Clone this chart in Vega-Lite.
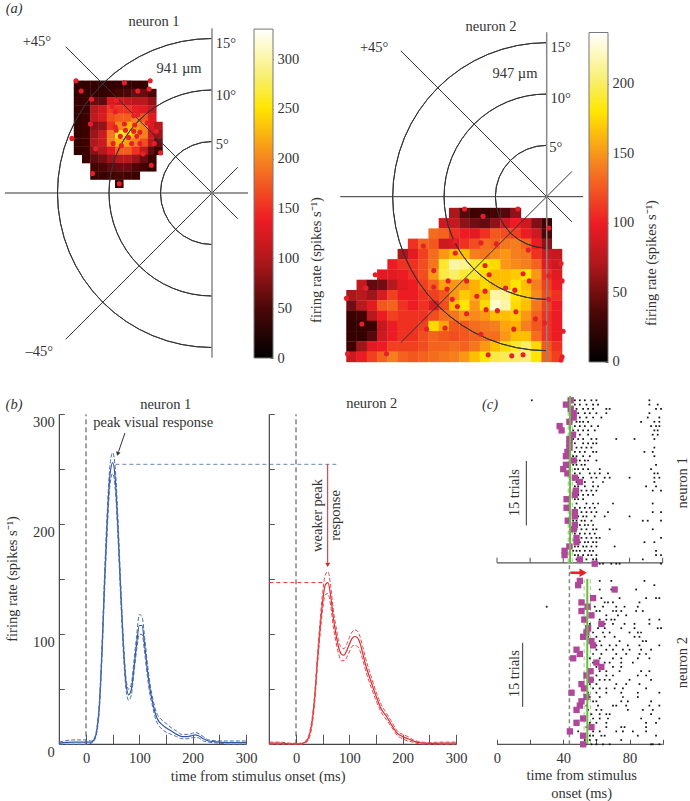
{"$schema":"https://vega.github.io/schema/vega-lite/v6.json","background":"white","padding":0,"spacing":26,"resolve":{"scale":{"color":"independent"}},
"config":{"font":"Liberation Serif","view":{"stroke":null},"text":{"fontSize":14.5,"fill":"#333","font":"Liberation Serif"},"axis":{"labelFont":"Liberation Serif","labelFontSize":14.5,"labelColor":"#333","tickColor":"#555","grid":false,"domain":false,"title":null,"labelOverlap":false,"labelBound":false,"labelFlush":false}},
"datasets":{
"h1":[{"x":-13,"y":10.5,"v":15},{"x":-12.2,"y":10.5,"v":12},{"x":-11.4,"y":10.5,"v":12},{"x":-10.6,"y":10.5,"v":8},{"x":-9.8,"y":10.5,"v":12},{"x":-9,"y":10.5,"v":20},{"x":-8.2,"y":10.5,"v":18},{"x":-7.4,"y":10.5,"v":15},{"x":-6.6,"y":10.5,"v":15},
{"x":-13,"y":9.7,"v":15},{"x":-12.2,"y":9.7,"v":15},{"x":-11.4,"y":9.7,"v":20},{"x":-10.6,"y":9.7,"v":15},{"x":-9.8,"y":9.7,"v":35},{"x":-9,"y":9.7,"v":45},{"x":-8.2,"y":9.7,"v":50},{"x":-7.4,"y":9.7,"v":65},{"x":-6.6,"y":9.7,"v":65},{"x":-5.8,"y":9.7,"v":45},
{"x":-13,"y":8.9,"v":18},{"x":-12.2,"y":8.9,"v":25},{"x":-11.4,"y":8.9,"v":65},{"x":-10.6,"y":8.9,"v":60},{"x":-9.8,"y":8.9,"v":125},{"x":-9,"y":8.9,"v":115},{"x":-8.2,"y":8.9,"v":110},{"x":-7.4,"y":8.9,"v":105},{"x":-6.6,"y":8.9,"v":105},{"x":-5.8,"y":8.9,"v":85},
{"x":-13,"y":8.1,"v":18},{"x":-12.2,"y":8.1,"v":28},{"x":-11.4,"y":8.1,"v":105},{"x":-10.6,"y":8.1,"v":120},{"x":-9.8,"y":8.1,"v":150},{"x":-9,"y":8.1,"v":145},{"x":-8.2,"y":8.1,"v":145},{"x":-7.4,"y":8.1,"v":135},{"x":-6.6,"y":8.1,"v":130},{"x":-5.8,"y":8.1,"v":110},
{"x":-13,"y":7.3,"v":15},{"x":-12.2,"y":7.3,"v":28},{"x":-11.4,"y":7.3,"v":110},{"x":-10.6,"y":7.3,"v":125},{"x":-9.8,"y":7.3,"v":160},{"x":-9,"y":7.3,"v":170},{"x":-8.2,"y":7.3,"v":170},{"x":-7.4,"y":7.3,"v":195},{"x":-6.6,"y":7.3,"v":165},{"x":-5.8,"y":7.3,"v":130},
{"x":-13,"y":6.5,"v":15},{"x":-12.2,"y":6.5,"v":28},{"x":-11.4,"y":6.5,"v":80},{"x":-10.6,"y":6.5,"v":85},{"x":-9.8,"y":6.5,"v":145},{"x":-9,"y":6.5,"v":200},{"x":-8.2,"y":6.5,"v":225},{"x":-7.4,"y":6.5,"v":210},{"x":-6.6,"y":6.5,"v":195},{"x":-5.8,"y":6.5,"v":125},{"x":-5.2,"y":6.5,"v":105},
{"x":-13,"y":5.7,"v":15},{"x":-12.2,"y":5.7,"v":35},{"x":-11.4,"y":5.7,"v":90},{"x":-10.6,"y":5.7,"v":115},{"x":-9.8,"y":5.7,"v":190},{"x":-9,"y":5.7,"v":255},{"x":-8.2,"y":5.7,"v":250},{"x":-7.4,"y":5.7,"v":225},{"x":-6.6,"y":5.7,"v":195},{"x":-5.8,"y":5.7,"v":115},{"x":-5.2,"y":5.7,"v":90},
{"x":-13,"y":4.9,"v":15},{"x":-12.2,"y":4.9,"v":35},{"x":-11.4,"y":4.9,"v":100},{"x":-10.6,"y":4.9,"v":115},{"x":-9.8,"y":4.9,"v":195},{"x":-9,"y":4.9,"v":225},{"x":-8.2,"y":4.9,"v":215},{"x":-7.4,"y":4.9,"v":195},{"x":-6.6,"y":4.9,"v":160},{"x":-5.8,"y":4.9,"v":105},{"x":-5.2,"y":4.9,"v":65},
{"x":-13,"y":4.1,"v":12},{"x":-12.2,"y":4.1,"v":30},{"x":-11.4,"y":4.1,"v":80},{"x":-10.6,"y":4.1,"v":100},{"x":-9.8,"y":4.1,"v":130},{"x":-9,"y":4.1,"v":170},{"x":-8.2,"y":4.1,"v":170},{"x":-7.4,"y":4.1,"v":145},{"x":-6.6,"y":4.1,"v":110},{"x":-5.8,"y":4.1,"v":60},{"x":-5.2,"y":4.1,"v":30},
{"x":-12.2,"y":3.3,"v":25},{"x":-11.4,"y":3.3,"v":60},{"x":-10.6,"y":3.3,"v":70},{"x":-9.8,"y":3.3,"v":90},{"x":-9,"y":3.3,"v":105},{"x":-8.2,"y":3.3,"v":105},{"x":-7.4,"y":3.3,"v":90},{"x":-6.6,"y":3.3,"v":65},{"x":-5.8,"y":3.3,"v":30},
{"x":-11.4,"y":2.5,"v":40},{"x":-10.6,"y":2.5,"v":45},{"x":-9.8,"y":2.5,"v":60},{"x":-9,"y":2.5,"v":65},{"x":-8.2,"y":2.5,"v":65},{"x":-7.4,"y":2.5,"v":50},{"x":-6.6,"y":2.5,"v":32},{"x":-5.8,"y":2.5,"v":20},
{"x":-11.4,"y":1.7,"v":20},{"x":-10.6,"y":1.7,"v":25},{"x":-9.8,"y":1.7,"v":40},{"x":-9,"y":1.7,"v":45},{"x":-8.2,"y":1.7,"v":40},{"x":-7.4,"y":1.7,"v":30},{"x":-9,"y":0.9,"v":22}],
"h2":[{"x":-9,"y":-1.6,"v":70},{"x":-8,"y":-1.6,"v":40},{"x":-7,"y":-1.6,"v":25},{"x":-6,"y":-1.6,"v":20},{"x":-5,"y":-1.6,"v":30},{"x":-4,"y":-1.6,"v":40},{"x":-3,"y":-1.6,"v":60},
{"x":-10,"y":-2.6,"v":85},{"x":-9,"y":-2.6,"v":80},{"x":-8,"y":-2.6,"v":60},{"x":-7,"y":-2.6,"v":50},{"x":-6,"y":-2.6,"v":45},{"x":-5,"y":-2.6,"v":60},{"x":-4,"y":-2.6,"v":85},{"x":-3,"y":-2.6,"v":100},{"x":-2,"y":-2.6,"v":85},{"x":-1,"y":-2.6,"v":55},{"x":0,"y":-2.6,"v":25},
{"x":-11,"y":-3.6,"v":130},{"x":-10,"y":-3.6,"v":125},{"x":-9,"y":-3.6,"v":105},{"x":-8,"y":-3.6,"v":100},{"x":-7,"y":-3.6,"v":95},{"x":-6,"y":-3.6,"v":105},{"x":-5,"y":-3.6,"v":120},{"x":-4,"y":-3.6,"v":115},{"x":-3,"y":-3.6,"v":110},{"x":-2,"y":-3.6,"v":100},{"x":-1,"y":-3.6,"v":85},{"x":0,"y":-3.6,"v":35},
{"x":-13,"y":-4.6,"v":105},{"x":-12,"y":-4.6,"v":125},{"x":-11,"y":-4.6,"v":120},{"x":-10,"y":-4.6,"v":85},{"x":-9,"y":-4.6,"v":90},{"x":-8,"y":-4.6,"v":105},{"x":-7,"y":-4.6,"v":115},{"x":-6,"y":-4.6,"v":130},{"x":-5,"y":-4.6,"v":125},{"x":-4,"y":-4.6,"v":135},{"x":-3,"y":-4.6,"v":140},{"x":-2,"y":-4.6,"v":125},{"x":-1,"y":-4.6,"v":100},{"x":0,"y":-4.6,"v":60},
{"x":-14,"y":-5.6,"v":70},{"x":-13,"y":-5.6,"v":95},{"x":-12,"y":-5.6,"v":110},{"x":-11,"y":-5.6,"v":130},{"x":-10,"y":-5.6,"v":150},{"x":-9,"y":-5.6,"v":165},{"x":-8,"y":-5.6,"v":165},{"x":-7,"y":-5.6,"v":140},{"x":-6,"y":-5.6,"v":135},{"x":-5,"y":-5.6,"v":145},{"x":-4,"y":-5.6,"v":150},{"x":-3,"y":-5.6,"v":140},{"x":-2,"y":-5.6,"v":135},{"x":-1,"y":-5.6,"v":105},{"x":0,"y":-5.6,"v":85},{"x":1,"y":-5.6,"v":80},
{"x":-15,"y":-6.6,"v":100},{"x":-14,"y":-6.6,"v":105},{"x":-13,"y":-6.6,"v":105},{"x":-12,"y":-6.6,"v":115},{"x":-11,"y":-6.6,"v":135},{"x":-10,"y":-6.6,"v":185},{"x":-9,"y":-6.6,"v":215},{"x":-8,"y":-6.6,"v":210},{"x":-7,"y":-6.6,"v":185},{"x":-6,"y":-6.6,"v":180},{"x":-5,"y":-6.6,"v":175},{"x":-4,"y":-6.6,"v":150},{"x":-3,"y":-6.6,"v":145},{"x":-2,"y":-6.6,"v":140},{"x":-1,"y":-6.6,"v":125},{"x":0,"y":-6.6,"v":95},{"x":1,"y":-6.6,"v":85},
{"x":-16,"y":-7.6,"v":95},{"x":-15,"y":-7.6,"v":95},{"x":-14,"y":-7.6,"v":100},{"x":-13,"y":-7.6,"v":105},{"x":-12,"y":-7.6,"v":115},{"x":-11,"y":-7.6,"v":150},{"x":-10,"y":-7.6,"v":190},{"x":-9,"y":-7.6,"v":200},{"x":-8,"y":-7.6,"v":185},{"x":-7,"y":-7.6,"v":185},{"x":-6,"y":-7.6,"v":175},{"x":-5,"y":-7.6,"v":165},{"x":-4,"y":-7.6,"v":165},{"x":-3,"y":-7.6,"v":170},{"x":-2,"y":-7.6,"v":180},{"x":-1,"y":-7.6,"v":150},{"x":0,"y":-7.6,"v":105},{"x":1,"y":-7.6,"v":95},
{"x":-18,"y":-8.6,"v":80},{"x":-17,"y":-8.6,"v":45},{"x":-16,"y":-8.6,"v":50},{"x":-15,"y":-8.6,"v":75},{"x":-14,"y":-8.6,"v":95},{"x":-13,"y":-8.6,"v":100},{"x":-12,"y":-8.6,"v":110},{"x":-11,"y":-8.6,"v":125},{"x":-10,"y":-8.6,"v":155},{"x":-9,"y":-8.6,"v":150},{"x":-8,"y":-8.6,"v":150},{"x":-7,"y":-8.6,"v":160},{"x":-6,"y":-8.6,"v":175},{"x":-5,"y":-8.6,"v":165},{"x":-4,"y":-8.6,"v":165},{"x":-3,"y":-8.6,"v":180},{"x":-2,"y":-8.6,"v":165},{"x":-1,"y":-8.6,"v":140},{"x":0,"y":-8.6,"v":110},{"x":1,"y":-8.6,"v":100},
{"x":-19,"y":-9.6,"v":70},{"x":-18,"y":-9.6,"v":75},{"x":-17,"y":-9.6,"v":65},{"x":-16,"y":-9.6,"v":90},{"x":-15,"y":-9.6,"v":110},{"x":-14,"y":-9.6,"v":100},{"x":-13,"y":-9.6,"v":100},{"x":-12,"y":-9.6,"v":105},{"x":-11,"y":-9.6,"v":110},{"x":-10,"y":-9.6,"v":120},{"x":-9,"y":-9.6,"v":150},{"x":-8,"y":-9.6,"v":170},{"x":-7,"y":-9.6,"v":160},{"x":-6,"y":-9.6,"v":165},{"x":-5,"y":-9.6,"v":215},{"x":-4,"y":-9.6,"v":210},{"x":-3,"y":-9.6,"v":180},{"x":-2,"y":-9.6,"v":170},{"x":-1,"y":-9.6,"v":145},{"x":0,"y":-9.6,"v":115},{"x":1,"y":-9.6,"v":105},
{"x":-19,"y":-10.6,"v":50},{"x":-18,"y":-10.6,"v":75},{"x":-17,"y":-10.6,"v":95},{"x":-16,"y":-10.6,"v":120},{"x":-15,"y":-10.6,"v":125},{"x":-14,"y":-10.6,"v":105},{"x":-13,"y":-10.6,"v":100},{"x":-12,"y":-10.6,"v":105},{"x":-11,"y":-10.6,"v":90},{"x":-10,"y":-10.6,"v":115},{"x":-9,"y":-10.6,"v":165},{"x":-8,"y":-10.6,"v":180},{"x":-7,"y":-10.6,"v":150},{"x":-6,"y":-10.6,"v":175},{"x":-5,"y":-10.6,"v":235},{"x":-4,"y":-10.6,"v":215},{"x":-3,"y":-10.6,"v":175},{"x":-2,"y":-10.6,"v":165},{"x":-1,"y":-10.6,"v":135},{"x":0,"y":-10.6,"v":110},{"x":1,"y":-10.6,"v":100},
{"x":-19,"y":-11.6,"v":20},{"x":-18,"y":-11.6,"v":30},{"x":-17,"y":-11.6,"v":75},{"x":-16,"y":-11.6,"v":100},{"x":-15,"y":-11.6,"v":110},{"x":-14,"y":-11.6,"v":105},{"x":-13,"y":-11.6,"v":105},{"x":-12,"y":-11.6,"v":105},{"x":-11,"y":-11.6,"v":115},{"x":-10,"y":-11.6,"v":130},{"x":-9,"y":-11.6,"v":135},{"x":-8,"y":-11.6,"v":150},{"x":-7,"y":-11.6,"v":145},{"x":-6,"y":-11.6,"v":150},{"x":-5,"y":-11.6,"v":165},{"x":-4,"y":-11.6,"v":165},{"x":-3,"y":-11.6,"v":170},{"x":-2,"y":-11.6,"v":150},{"x":-1,"y":-11.6,"v":125},{"x":0,"y":-11.6,"v":105},{"x":1,"y":-11.6,"v":100},
{"x":-19,"y":-12.6,"v":8},{"x":-18,"y":-12.6,"v":5},{"x":-17,"y":-12.6,"v":20},{"x":-16,"y":-12.6,"v":80},{"x":-15,"y":-12.6,"v":100},{"x":-14,"y":-12.6,"v":105},{"x":-13,"y":-12.6,"v":105},{"x":-12,"y":-12.6,"v":110},{"x":-11,"y":-12.6,"v":175},{"x":-10,"y":-12.6,"v":155},{"x":-9,"y":-12.6,"v":120},{"x":-8,"y":-12.6,"v":120},{"x":-7,"y":-12.6,"v":130},{"x":-6,"y":-12.6,"v":135},{"x":-5,"y":-12.6,"v":140},{"x":-4,"y":-12.6,"v":155},{"x":-3,"y":-12.6,"v":160},{"x":-2,"y":-12.6,"v":140},{"x":-1,"y":-12.6,"v":120},{"x":0,"y":-12.6,"v":105},{"x":1,"y":-12.6,"v":100},
{"x":-19,"y":-13.6,"v":15},{"x":-18,"y":-13.6,"v":10},{"x":-17,"y":-13.6,"v":40},{"x":-16,"y":-13.6,"v":85},{"x":-15,"y":-13.6,"v":100},{"x":-14,"y":-13.6,"v":105},{"x":-13,"y":-13.6,"v":105},{"x":-12,"y":-13.6,"v":115},{"x":-11,"y":-13.6,"v":125},{"x":-10,"y":-13.6,"v":120},{"x":-9,"y":-13.6,"v":115},{"x":-8,"y":-13.6,"v":120},{"x":-7,"y":-13.6,"v":125},{"x":-6,"y":-13.6,"v":130},{"x":-5,"y":-13.6,"v":130},{"x":-4,"y":-13.6,"v":150},{"x":-3,"y":-13.6,"v":165},{"x":-2,"y":-13.6,"v":165},{"x":-1,"y":-13.6,"v":130},{"x":0,"y":-13.6,"v":105},{"x":1,"y":-13.6,"v":100},
{"x":-19,"y":-14.6,"v":25},{"x":-18,"y":-14.6,"v":65},{"x":-17,"y":-14.6,"v":95},{"x":-16,"y":-14.6,"v":100},{"x":-15,"y":-14.6,"v":110},{"x":-14,"y":-14.6,"v":110},{"x":-13,"y":-14.6,"v":110},{"x":-12,"y":-14.6,"v":115},{"x":-11,"y":-14.6,"v":125},{"x":-10,"y":-14.6,"v":125},{"x":-9,"y":-14.6,"v":130},{"x":-8,"y":-14.6,"v":125},{"x":-7,"y":-14.6,"v":135},{"x":-6,"y":-14.6,"v":150},{"x":-5,"y":-14.6,"v":165},{"x":-4,"y":-14.6,"v":175},{"x":-3,"y":-14.6,"v":185},{"x":-2,"y":-14.6,"v":200},{"x":-1,"y":-14.6,"v":175},{"x":0,"y":-14.6,"v":120},{"x":1,"y":-14.6,"v":105},
{"x":-19,"y":-15.6,"v":85},{"x":-18,"y":-15.6,"v":100},{"x":-17,"y":-15.6,"v":110},{"x":-16,"y":-15.6,"v":125},{"x":-15,"y":-15.6,"v":140},{"x":-14,"y":-15.6,"v":125},{"x":-13,"y":-15.6,"v":120},{"x":-12,"y":-15.6,"v":125},{"x":-11,"y":-15.6,"v":130},{"x":-10,"y":-15.6,"v":135},{"x":-9,"y":-15.6,"v":140},{"x":-8,"y":-15.6,"v":150},{"x":-7,"y":-15.6,"v":165},{"x":-6,"y":-15.6,"v":180},{"x":-5,"y":-15.6,"v":190},{"x":-4,"y":-15.6,"v":195},{"x":-3,"y":-15.6,"v":200},{"x":-2,"y":-15.6,"v":205},{"x":-1,"y":-15.6,"v":180},{"x":0,"y":-15.6,"v":125},{"x":1,"y":-15.6,"v":110}],
"d1":[{"x":-13.2,"y":10.9},{"x":-8.5,"y":10.7},{"x":-6,"y":10.9},{"x":-12.7,"y":9.9},{"x":-6.1,"y":10.1},{"x":-7.2,"y":9.9},{"x":-11.7,"y":9.1},{"x":-9.3,"y":9},{"x":-11.8,"y":6.7},{"x":-13.6,"y":5.3},{"x":-5.4,"y":6},{"x":-5.6,"y":4.8},{"x":-5,"y":3.9},{"x":-5.9,"y":2.7},{"x":-6.7,"y":3.8},{"x":-11.3,"y":4.3},{"x":-11.6,"y":1.9},{"x":-9,"y":0.9},{"x":-9.4,"y":6.4},{"x":-8.5,"y":6.7},{"x":-7.6,"y":7.5},{"x":-7.2,"y":7.6},{"x":-9.3,"y":6.1},{"x":-8.4,"y":6.1},{"x":-7.6,"y":6},{"x":-7,"y":5.9},{"x":-8.9,"y":5.5},{"x":-8.1,"y":5.4},{"x":-7.3,"y":5.5},{"x":-8.8,"y":4.6},{"x":-7.8,"y":4.8},{"x":-7,"y":4.8},{"x":-9.6,"y":4.8},{"x":-7.5,"y":6.6},{"x":-6.3,"y":6.8},{"x":-9.7,"y":8.4},{"x":-9.4,"y":7.9}],
"d2":[{"x":-8,"y":-1.2},{"x":-2.8,"y":-1.2},{"x":-6.2,"y":-1.9},{"x":0.2,"y":-3.05},{"x":-8.9,"y":-4.3},{"x":-6.4,"y":-4.5},{"x":-4.9,"y":-4.6},{"x":-12,"y":-4.8},{"x":-8.9,"y":-5.5},{"x":-1.8,"y":-5.2},{"x":1.4,"y":-6.5},{"x":-6,"y":-6.7},{"x":-11,"y":-7.2},{"x":-5.6,"y":-7.6},{"x":-2.3,"y":-7.5},{"x":0.2,"y":-7.7},{"x":-16.7,"y":-7.6},{"x":-9.6,"y":-8.2},{"x":-7.8,"y":-8.2},{"x":-1.7,"y":-8.2},{"x":1.5,"y":-8.2},{"x":-9.7,"y":-9},{"x":-11,"y":-8.8},{"x":-17.6,"y":-8.9},{"x":-4,"y":-8.9},{"x":-3.1,"y":-9.1},{"x":-6,"y":-9.2},{"x":-19.5,"y":-9.9},{"x":-6.8,"y":-9.7},{"x":-9.2,"y":-10},{"x":0.2,"y":-10},{"x":-8.7,"y":-10.7},{"x":-5.9,"y":-11},{"x":-4.8,"y":-11.1},{"x":-3,"y":-11.2},{"x":-7.8,"y":-11.4},{"x":-1.1,"y":-11.9},{"x":-0.2,"y":-12.3},{"x":-18,"y":-12.4},{"x":-11.7,"y":-12.9},{"x":-9.9,"y":-12.8},{"x":-3.2,"y":-12.9},{"x":1.6,"y":-13.1},{"x":-6.4,"y":-13.4},{"x":-19.4,"y":-15.3},{"x":-5.7,"y":-15.4},{"x":-3.4,"y":-15.5},{"x":-2.3,"y":-15.4},{"x":1.5,"y":-15.6},{"x":1.4,"y":-15.9},{"x":-15.6,"y":-15.3}],
"r1":[{"x":-50,"m":1,"l":0,"h":2},{"x":-25,"m":2,"l":0,"h":4},{"x":0,"m":2,"l":0,"h":4},{"x":10,"m":2,"l":1,"h":3},{"x":15,"m":4,"l":3,"h":5},{"x":20,"m":12,"l":10,"h":14},{"x":25,"m":35,"l":31,"h":39},{"x":30,"m":85,"l":79,"h":91},{"x":35,"m":150,"l":142,"h":158},{"x":40,"m":205,"l":196,"h":214},{"x":45,"m":245,"l":236,"h":254},{"x":50,"m":256,"l":246,"h":265},{"x":55,"m":240,"l":231,"h":250},{"x":60,"m":195,"l":187,"h":204},{"x":65,"m":140,"l":133,"h":147},{"x":70,"m":90,"l":84,"h":96},{"x":75,"m":55,"l":50,"h":60},{"x":80,"m":45,"l":40,"h":50},{"x":85,"m":50,"l":45,"h":55},{"x":90,"m":70,"l":65,"h":76},{"x":95,"m":92,"l":86,"h":99},{"x":100,"m":108,"l":100,"h":118},{"x":105,"m":108,"l":100,"h":116},{"x":110,"m":90,"l":83,"h":97},{"x":115,"m":68,"l":62,"h":74},{"x":120,"m":50,"l":45,"h":55},{"x":125,"m":38,"l":34,"h":42},{"x":130,"m":28,"l":24,"h":32},{"x":135,"m":22,"l":18,"h":26},{"x":140,"m":19,"l":15,"h":23},{"x":150,"m":15,"l":11,"h":19},{"x":160,"m":12,"l":9,"h":15},{"x":170,"m":9,"l":7,"h":12},{"x":180,"m":7,"l":5,"h":9},{"x":190,"m":7,"l":5,"h":9},{"x":200,"m":8,"l":6,"h":10},{"x":205,"m":8.5,"l":6,"h":11},{"x":210,"m":8,"l":6,"h":10},{"x":220,"m":5,"l":3,"h":7},{"x":230,"m":3,"l":2,"h":4},{"x":250,"m":2,"l":1,"h":3},{"x":270,"m":1.5,"l":0,"h":3},{"x":300,"m":1.5,"l":0,"h":3}],
"r2":[{"x":-50,"m":1,"l":0,"h":2},{"x":-30,"m":1,"l":0,"h":2},{"x":-10,"m":0.5,"l":0,"h":1},{"x":0,"m":0.3,"l":0,"h":1},{"x":10,"m":0.5,"l":0,"h":1},{"x":15,"m":1.5,"l":1,"h":2},{"x":20,"m":3,"l":2,"h":4},{"x":25,"m":8,"l":6,"h":10},{"x":30,"m":20,"l":17,"h":23},{"x":35,"m":42,"l":38,"h":46},{"x":40,"m":75,"l":70,"h":80},{"x":45,"m":105,"l":99,"h":111},{"x":50,"m":130,"l":123,"h":138},{"x":55,"m":145,"l":136,"h":154},{"x":60,"m":147,"l":137,"h":157},{"x":65,"m":135,"l":126,"h":144},{"x":70,"m":115,"l":107,"h":122},{"x":75,"m":100,"l":93,"h":107},{"x":80,"m":88,"l":82,"h":94},{"x":85,"m":82,"l":76,"h":88},{"x":90,"m":81,"l":76,"h":87},{"x":95,"m":85,"l":79,"h":91},{"x":100,"m":91,"l":84,"h":97},{"x":105,"m":96,"l":89,"h":102},{"x":110,"m":98,"l":90,"h":104},{"x":115,"m":97,"l":89,"h":103},{"x":120,"m":92,"l":85,"h":98},{"x":125,"m":83,"l":77,"h":89},{"x":130,"m":73,"l":68,"h":79},{"x":140,"m":58,"l":53,"h":63},{"x":150,"m":44,"l":40,"h":48},{"x":160,"m":32,"l":29,"h":36},{"x":170,"m":25,"l":22,"h":28},{"x":180,"m":17,"l":15,"h":20},{"x":190,"m":10,"l":8,"h":12},{"x":200,"m":7,"l":5,"h":9},{"x":210,"m":5,"l":3,"h":7},{"x":220,"m":3,"l":2,"h":4},{"x":230,"m":1.5,"l":0.5,"h":2.5},{"x":250,"m":0.8,"l":0,"h":1.5},{"x":270,"m":1,"l":0,"h":2},{"x":300,"m":1,"l":0,"h":2}],
"s":[{"x":21,"y":80},{"x":47,"y":80},{"x":50,"y":80},{"x":53,"y":80},{"x":57,"y":80},{"x":60,"y":80},{"x":92,"y":80},{"x":47,"y":79},{"x":50,"y":79},{"x":54,"y":79},{"x":58,"y":79},{"x":61,"y":79},{"x":92,"y":79},{"x":97,"y":79},{"x":48,"y":78},{"x":52,"y":78},{"x":55,"y":78},{"x":58,"y":78},{"x":66,"y":78},{"x":68,"y":78},{"x":96,"y":78},{"x":99,"y":78},{"x":49,"y":77},{"x":53,"y":77},{"x":56,"y":77},{"x":60,"y":77},{"x":66,"y":77},{"x":92,"y":77},{"x":47,"y":76},{"x":50,"y":76},{"x":54,"y":76},{"x":58,"y":76},{"x":63,"y":76},{"x":91,"y":76},{"x":98,"y":76},{"x":48,"y":75},{"x":50,"y":75},{"x":52,"y":75},{"x":55,"y":75},{"x":87,"y":75},{"x":95,"y":75},{"x":98,"y":75},{"x":47,"y":74},{"x":50,"y":74},{"x":53,"y":74},{"x":57,"y":74},{"x":61,"y":74},{"x":93,"y":74},{"x":96,"y":74},{"x":98,"y":74},{"x":46,"y":73},{"x":49,"y":73},{"x":52,"y":73},{"x":55,"y":73},{"x":59,"y":73},{"x":95,"y":73},{"x":97,"y":73},{"x":47,"y":72},{"x":50,"y":72},{"x":55,"y":72},{"x":94,"y":72},{"x":97,"y":72},{"x":46,"y":71},{"x":49,"y":71},{"x":52,"y":71},{"x":57,"y":71},{"x":60,"y":71},{"x":72,"y":71},{"x":83,"y":71},{"x":95,"y":71},{"x":47,"y":70},{"x":52,"y":70},{"x":55,"y":70},{"x":58,"y":70},{"x":60,"y":70},{"x":48,"y":69},{"x":51,"y":69},{"x":54,"y":69},{"x":57,"y":69},{"x":95,"y":69},{"x":47,"y":68},{"x":50,"y":68},{"x":53,"y":68},{"x":58,"y":68},{"x":60,"y":68},{"x":89,"y":68},{"x":94,"y":68},{"x":46,"y":67},{"x":48,"y":67},{"x":52,"y":67},{"x":56,"y":67},{"x":95,"y":67},{"x":48,"y":66},{"x":50,"y":66},{"x":53,"y":66},{"x":55,"y":66},{"x":60,"y":66},{"x":46,"y":65},{"x":48,"y":65},{"x":51,"y":65},{"x":53,"y":65},{"x":96,"y":65},{"x":47,"y":64},{"x":49,"y":64},{"x":52,"y":64},{"x":55,"y":64},{"x":62,"y":64},{"x":93,"y":64},{"x":47,"y":63},{"x":50,"y":63},{"x":56,"y":63},{"x":59,"y":63},{"x":62,"y":63},{"x":67,"y":63},{"x":95,"y":63},{"x":97,"y":63},{"x":49,"y":62},{"x":52,"y":62},{"x":57,"y":62},{"x":60,"y":62},{"x":65,"y":62},{"x":68,"y":62},{"x":80,"y":62},{"x":95,"y":62},{"x":98,"y":62},{"x":48,"y":61},{"x":50,"y":61},{"x":53,"y":61},{"x":58,"y":61},{"x":64,"y":61},{"x":95,"y":61},{"x":47,"y":60},{"x":49,"y":60},{"x":53,"y":60},{"x":58,"y":60},{"x":61,"y":60},{"x":90,"y":60},{"x":96,"y":60},{"x":48,"y":59},{"x":51,"y":59},{"x":54,"y":59},{"x":57,"y":59},{"x":60,"y":59},{"x":94,"y":59},{"x":99,"y":59},{"x":46,"y":58},{"x":49,"y":58},{"x":52,"y":58},{"x":55,"y":58},{"x":58,"y":58},{"x":47,"y":57},{"x":49,"y":57},{"x":52,"y":57},{"x":48,"y":56},{"x":54,"y":56},{"x":58,"y":56},{"x":61,"y":56},{"x":70,"y":56},{"x":94,"y":56},{"x":47,"y":55},{"x":50,"y":55},{"x":53,"y":55},{"x":56,"y":55},{"x":59,"y":55},{"x":48,"y":54},{"x":51,"y":54},{"x":54,"y":54},{"x":57,"y":54},{"x":60,"y":54},{"x":67,"y":54},{"x":94,"y":54},{"x":99,"y":54},{"x":47,"y":53},{"x":49,"y":53},{"x":52,"y":53},{"x":54,"y":53},{"x":59,"y":53},{"x":65,"y":53},{"x":80,"y":53},{"x":46,"y":52},{"x":48,"y":52},{"x":51,"y":52},{"x":53,"y":52},{"x":57,"y":52},{"x":88,"y":52},{"x":91,"y":52},{"x":99,"y":52},{"x":47,"y":51},{"x":50,"y":51},{"x":53,"y":51},{"x":55,"y":51},{"x":58,"y":51},{"x":48,"y":50},{"x":51,"y":50},{"x":54,"y":50},{"x":58,"y":50},{"x":60,"y":50},{"x":68,"y":50},{"x":94,"y":50},{"x":47,"y":49},{"x":50,"y":49},{"x":53,"y":49},{"x":56,"y":49},{"x":59,"y":49},{"x":49,"y":48},{"x":51,"y":48},{"x":54,"y":48},{"x":57,"y":48},{"x":60,"y":48},{"x":62,"y":48},{"x":99,"y":48},{"x":48,"y":47},{"x":50,"y":47},{"x":53,"y":47},{"x":55,"y":47},{"x":58,"y":47},{"x":60,"y":47},{"x":89,"y":47},{"x":95,"y":47},{"x":47,"y":46},{"x":49,"y":46},{"x":52,"y":46},{"x":54,"y":46},{"x":57,"y":46},{"x":60,"y":46},{"x":71,"y":46},{"x":46,"y":45},{"x":48,"y":45},{"x":50,"y":45},{"x":53,"y":45},{"x":56,"y":45},{"x":58,"y":45},{"x":96,"y":45},{"x":47,"y":44},{"x":49,"y":44},{"x":52,"y":44},{"x":55,"y":44},{"x":57,"y":44},{"x":60,"y":44},{"x":96,"y":44},{"x":99,"y":44},{"x":48,"y":43},{"x":50,"y":43},{"x":54,"y":43},{"x":58,"y":43},{"x":60,"y":43},{"x":88,"y":43},{"x":62,"y":42},{"x":64,"y":42},{"x":69,"y":42},{"x":72,"y":42},{"x":74,"y":42},{"x":99,"y":42},
{"x":62,"y":38},{"x":69,"y":38},{"x":89,"y":38},{"x":95,"y":37},{"x":62,"y":36},{"x":69,"y":36},{"x":84,"y":36},{"x":63,"y":34},{"x":74,"y":34},{"x":90,"y":34},{"x":96,"y":34},{"x":98,"y":34},{"x":65,"y":33},{"x":67,"y":33},{"x":70,"y":33},{"x":86,"y":33},{"x":30,"y":32},{"x":59,"y":32},{"x":64,"y":32},{"x":72,"y":32},{"x":77,"y":32},{"x":85,"y":32},{"x":60,"y":31},{"x":62,"y":31},{"x":70,"y":31},{"x":72,"y":31},{"x":75,"y":31},{"x":84,"y":31},{"x":88,"y":31},{"x":57,"y":30},{"x":66,"y":30},{"x":73,"y":30},{"x":78,"y":30},{"x":62,"y":29},{"x":66,"y":29},{"x":69,"y":29},{"x":71,"y":29},{"x":92,"y":29},{"x":98,"y":29},{"x":56,"y":28},{"x":62,"y":28},{"x":65,"y":28},{"x":70,"y":28},{"x":77,"y":28},{"x":83,"y":28},{"x":92,"y":28},{"x":61,"y":27},{"x":65,"y":27},{"x":75,"y":27},{"x":83,"y":27},{"x":97,"y":27},{"x":99,"y":27},{"x":58,"y":26},{"x":64,"y":26},{"x":68,"y":26},{"x":80,"y":26},{"x":85,"y":26},{"x":87,"y":26},{"x":55,"y":25},{"x":60,"y":25},{"x":65,"y":25},{"x":71,"y":25},{"x":83,"y":25},{"x":86,"y":25},{"x":58,"y":24},{"x":62,"y":24},{"x":74,"y":24},{"x":88,"y":24},{"x":90,"y":24},{"x":57,"y":23},{"x":60,"y":23},{"x":63,"y":23},{"x":68,"y":23},{"x":72,"y":23},{"x":79,"y":23},{"x":86,"y":23},{"x":98,"y":23},{"x":60,"y":22},{"x":66,"y":22},{"x":70,"y":22},{"x":76,"y":22},{"x":80,"y":22},{"x":87,"y":22},{"x":93,"y":22},{"x":58,"y":21},{"x":63,"y":21},{"x":72,"y":21},{"x":78,"y":21},{"x":86,"y":21},{"x":90,"y":21},{"x":56,"y":20},{"x":62,"y":20},{"x":70,"y":20},{"x":75,"y":20},{"x":85,"y":20},{"x":92,"y":20},{"x":58,"y":19},{"x":65,"y":19},{"x":68,"y":19},{"x":75,"y":19},{"x":82,"y":19},{"x":60,"y":18},{"x":64,"y":18},{"x":70,"y":18},{"x":75,"y":18},{"x":57,"y":17},{"x":62,"y":17},{"x":66,"y":17},{"x":74,"y":17},{"x":87,"y":17},{"x":92,"y":17},{"x":55,"y":16},{"x":60,"y":16},{"x":66,"y":16},{"x":70,"y":16},{"x":85,"y":16},{"x":90,"y":16},{"x":58,"y":15},{"x":62,"y":15},{"x":65,"y":15},{"x":68,"y":15},{"x":80,"y":15},{"x":93,"y":15},{"x":56,"y":14},{"x":60,"y":14},{"x":72,"y":14},{"x":78,"y":14},{"x":86,"y":14},{"x":54,"y":13},{"x":58,"y":13},{"x":62,"y":13},{"x":66,"y":13},{"x":71,"y":13},{"x":76,"y":13},{"x":90,"y":13},{"x":55,"y":12},{"x":60,"y":12},{"x":66,"y":12},{"x":75,"y":12},{"x":85,"y":12},{"x":98,"y":12},{"x":56,"y":11},{"x":62,"y":11},{"x":76,"y":11},{"x":85,"y":11},{"x":58,"y":10},{"x":60,"y":10},{"x":75,"y":10},{"x":79,"y":10},{"x":93,"y":10},{"x":54,"y":9},{"x":61,"y":9},{"x":70,"y":9},{"x":72,"y":9},{"x":78,"y":9},{"x":92,"y":9},{"x":98,"y":9},{"x":55,"y":8},{"x":60,"y":8},{"x":63,"y":8},{"x":79,"y":8},{"x":88,"y":8},{"x":94,"y":8},{"x":57,"y":7},{"x":62,"y":7},{"x":66,"y":7},{"x":68,"y":7},{"x":93,"y":7},{"x":53,"y":6},{"x":58,"y":6},{"x":62,"y":6},{"x":67,"y":6},{"x":87,"y":6},{"x":98,"y":6},{"x":56,"y":5},{"x":60,"y":5},{"x":66,"y":5},{"x":90,"y":5},{"x":96,"y":5},{"x":54,"y":4},{"x":66,"y":4},{"x":75,"y":4},{"x":77,"y":4},{"x":90,"y":4},{"x":49,"y":3},{"x":58,"y":3},{"x":62,"y":3},{"x":72,"y":3},{"x":76,"y":3},{"x":82,"y":3},{"x":90,"y":3},{"x":56,"y":2},{"x":58,"y":2},{"x":63,"y":2},{"x":65,"y":2},{"x":85,"y":2},{"x":96,"y":2},{"x":53,"y":1},{"x":56,"y":1},{"x":60,"y":1},{"x":75,"y":1},{"x":54,"y":0},{"x":57,"y":0},{"x":60,"y":0},{"x":64,"y":0},{"x":68,"y":0},{"x":93,"y":0},{"x":94,"y":0},{"x":98,"y":0}],
"q":[{"x":44.5,"y":80},{"x":41.6,"y":79},{"x":44.5,"y":78},{"x":46.3,"y":77},{"x":46.3,"y":76},{"x":43.7,"y":75},{"x":37.8,"y":74},{"x":39,"y":73},{"x":45.9,"y":72},{"x":43.7,"y":71},{"x":43.7,"y":70},{"x":43.7,"y":69},{"x":42.5,"y":68},{"x":41.6,"y":67},{"x":46.3,"y":66},{"x":41.6,"y":65},{"x":40,"y":64},{"x":42.5,"y":63},{"x":47,"y":62},{"x":50,"y":61},{"x":47.7,"y":59},{"x":47,"y":58},{"x":42,"y":57},{"x":42,"y":55},{"x":47,"y":54},{"x":47,"y":53},{"x":42.7,"y":52},{"x":47,"y":51},{"x":46.3,"y":50},{"x":48,"y":48},{"x":48,"y":47},{"x":43.7,"y":46},{"x":40.8,"y":45},{"x":40.8,"y":44},{"x":50,"y":43},{"x":59,"y":42},
{"x":50,"y":38},{"x":49,"y":37},{"x":71,"y":36},{"x":58,"y":34},{"x":51,"y":33},{"x":54.7,"y":32},{"x":51,"y":31},{"x":57,"y":30},{"x":52.7,"y":29},{"x":63,"y":28},{"x":55,"y":27},{"x":54,"y":26},{"x":52,"y":25},{"x":57,"y":24},{"x":58,"y":23},{"x":48,"y":22},{"x":50,"y":21},{"x":46,"y":20},{"x":60,"y":19},{"x":63,"y":18},{"x":56.5,"y":17},{"x":54,"y":16},{"x":56.5,"y":15},{"x":51,"y":14},{"x":52.5,"y":13},{"x":45,"y":12},{"x":54,"y":11},{"x":51,"y":10},{"x":50,"y":9},{"x":48,"y":8},{"x":52,"y":6},{"x":48,"y":5},{"x":57,"y":4},{"x":44,"y":3},{"x":52,"y":2},{"x":52,"y":0}]
},
"vconcat":[
{"hconcat":[
{"width":250,"height":365,"encoding":{"x":{"field":"x","type":"quantitative","scale":{"domain":[-20.58,3.69]},"axis":null},"y":{"field":"y","type":"quantitative","scale":{"domain":[-16.7,18.74]},"axis":null}},
"layer":[
{"data":{"name":"h1"},"mark":{"type":"rect","width":8.6,"height":8.6},"encoding":{"color":{"field":"v","type":"quantitative","legend":null,"scale":{"domain":[0,49,99,138,197,250,280,309,329],"range":["#000000","#4a0808","#b0181c","#ed1c24","#f58220","#ffe600","#f8ee6a","#fdf9c4","#ffffff"]}}}},
{"data":{"values":[{"x":0,"y":0,"r":5},{"x":0,"y":0,"r":10},{"x":0,"y":0,"r":15}]},"mark":{"type":"arc","theta":3.14159,"theta2":6.28318,"fill":null,"stroke":"#333","strokeWidth":1},"encoding":{"radius":{"field":"r","type":"quantitative","scale":{"domain":[0,15],"range":[0,154.5]}},"radius2":{"field":"r"}}},
{"data":{"values":[{"x":-20.1,"x2":3.5,"y":0,"y2":0},{"x":-14.2,"x2":2.5,"y":14.2,"y2":-2.5},{"x":-14.2,"x2":2.5,"y":-14.2,"y2":2.5}]},"mark":{"type":"rule","stroke":"#333","strokeWidth":1},"encoding":{"x2":{"field":"x2"},"y2":{"field":"y2"}}},
{"data":{"values":[{"x":0,"x2":0,"y":16,"y2":-16}]},"mark":{"type":"rule","stroke":"#888","strokeWidth":1.5},"encoding":{"x2":{"field":"x2"},"y2":{"field":"y2"}}},
{"data":{"name":"d1"},"mark":{"type":"point","shape":"circle","filled":true,"size":26,"opacity":1,"color":"#e6202a"}},
{"data":{"values":[{"x":-5.63,"y":16.6,"t":"neuron 1"},{"x":-17,"y":14.66,"t":"+45°"},{"x":-16.76,"y":-15.44,"t":"–45°"},{"x":1.36,"y":14.5,"t":"15°"},{"x":1.36,"y":9.45,"t":"10°"},{"x":1,"y":4.66,"t":"5°"},{"x":-3.2,"y":12.04,"t":"941 µm"}]},"mark":{"type":"text","align":"center","baseline":"middle"},"encoding":{"text":{"field":"t"}}},
{"data":{"values":[{"x":-19.2,"y":17.9,"t":"(a)"}]},"mark":{"type":"text","align":"center","baseline":"middle","fontStyle":"italic"},"encoding":{"text":{"field":"t"}}}
]},
{"width":19,"height":365,"encoding":{"x":{"field":"x","type":"quantitative","scale":{"domain":[0,1]},"axis":null},"y":{"field":"y","type":"quantitative","scale":{"domain":[-7.02,359.2]},"axis":{"orient":"right","values":[0,50,100,150,200,250,300],"tickSize":-3,"labelPadding":7}}},
"layer":[
{"data":{"values":[{"x":0,"x2":1,"y":0,"y2":330}]},"mark":{"type":"rect","stroke":"#777","strokeWidth":1,"fill":{"x1":0,"y1":1,"x2":0,"y2":0,"gradient":"linear","stops":[{"offset":0,"color":"#000000"},{"offset":0.15,"color":"#4a0808"},{"offset":0.3,"color":"#b0181c"},{"offset":0.42,"color":"#ed1c24"},{"offset":0.6,"color":"#f58220"},{"offset":0.76,"color":"#ffe600"},{"offset":0.85,"color":"#f8ee6a"},{"offset":0.94,"color":"#fdf9c4"},{"offset":1,"color":"#ffffff"}]}},"encoding":{"x2":{"field":"x2"},"y2":{"field":"y2"}}},
{"data":{"values":[{"x":3.3,"y":98.3,"t":"firing rate (spikes s⁻¹)"}]},"mark":{"type":"text","angle":270,"align":"center","baseline":"middle"},"encoding":{"text":{"field":"t"}}}
]},
{"width":308,"height":365,"encoding":{"x":{"field":"x","type":"quantitative","scale":{"domain":[-26.26,3.73]},"axis":null},"y":{"field":"y","type":"quantitative","scale":{"domain":[-16.39,19.15]},"axis":null}},
"layer":[
{"data":{"name":"h2"},"mark":{"type":"rect","width":10.6,"height":10.6},"encoding":{"color":{"field":"v","type":"quantitative","legend":null,"scale":{"domain":[0,36,71,100,142,180,201,223,237],"range":["#000000","#4a0808","#b0181c","#ed1c24","#f58220","#ffe600","#f8ee6a","#fdf9c4","#ffffff"]}}}},
{"data":{"values":[{"x":0,"y":0,"r":5},{"x":0,"y":0,"r":10},{"x":0,"y":0,"r":15}]},"mark":{"type":"arc","theta":3.14159,"theta2":6.28318,"fill":null,"stroke":"#333","strokeWidth":1},"encoding":{"radius":{"field":"r","type":"quantitative","scale":{"domain":[0,15],"range":[0,154]}},"radius2":{"field":"r"}}},
{"data":{"values":[{"x":-20.1,"x2":3.55,"y":0,"y2":0},{"x":-14.2,"x2":2.46,"y":14.2,"y2":-2.46},{"x":-14.2,"x2":2.46,"y":-14.2,"y2":2.46}]},"mark":{"type":"rule","stroke":"#333","strokeWidth":1},"encoding":{"x2":{"field":"x2"},"y2":{"field":"y2"}}},
{"data":{"values":[{"x":0,"x2":0,"y":16,"y2":-16.1}]},"mark":{"type":"rule","stroke":"#888","strokeWidth":1.5},"encoding":{"x2":{"field":"x2"},"y2":{"field":"y2"}}},
{"data":{"name":"d2"},"mark":{"type":"point","shape":"circle","filled":true,"size":26,"opacity":1,"color":"#e6202a"}},
{"data":{"values":[{"x":-5.42,"y":16.55,"t":"neuron 2"},{"x":-16.8,"y":14.5,"t":"+45°"},{"x":1.35,"y":14.5,"t":"15°"},{"x":1.35,"y":9.5,"t":"10°"},{"x":0.89,"y":4.74,"t":"5°"},{"x":-3.09,"y":11.95,"t":"947 µm"}]},"mark":{"type":"text","align":"center","baseline":"middle"},"encoding":{"text":{"field":"t"}}}
]},
{"width":19,"height":365,"encoding":{"x":{"field":"x","type":"quantitative","scale":{"domain":[0,1]},"axis":null},"y":{"field":"y","type":"quantitative","scale":{"domain":[-2.16,260.4]},"axis":{"orient":"right","values":[0,50,100,150,200],"tickSize":-3,"labelPadding":7}}},
"layer":[
{"data":{"values":[{"x":0,"x2":1,"y":0,"y2":237}]},"mark":{"type":"rect","stroke":"#777","strokeWidth":1,"fill":{"x1":0,"y1":1,"x2":0,"y2":0,"gradient":"linear","stops":[{"offset":0,"color":"#000000"},{"offset":0.15,"color":"#4a0808"},{"offset":0.3,"color":"#b0181c"},{"offset":0.42,"color":"#ed1c24"},{"offset":0.6,"color":"#f58220"},{"offset":0.76,"color":"#ffe600"},{"offset":0.85,"color":"#f8ee6a"},{"offset":0.94,"color":"#fdf9c4"},{"offset":1,"color":"#ffffff"}]}},"encoding":{"x2":{"field":"x2"},"y2":{"field":"y2"}}},
{"data":{"values":[{"x":3.3,"y":71.2,"t":"firing rate (spikes s⁻¹)"}]},"mark":{"type":"text","angle":270,"align":"center","baseline":"middle"},"encoding":{"text":{"field":"t"}}}
]}
],"bounds":"flush","spacing":4,"resolve":{"scale":{"color":"independent"}}},
{"hconcat":[
{"width":246,"height":348.3,"encoding":{"x":{"field":"x","type":"quantitative","scale":{"domain":[-161.3,300]},"axis":{"values":[0,50,100,150,200,250,300],"labelExpr":"datum.value%100==0?datum.label:''","tickSize":-10,"labelPadding":17}},"y":{"field":"y","type":"quantitative","scale":{"domain":[0,316.6]},"axis":{"values":[0,50,100,150,200,250,300],"labelExpr":"datum.value%100==0?datum.label:''","offset":-59.3,"tickSize":-5,"labelPadding":10,"labelOffset":8}}},
"layer":[
{"data":{"values":[{"x":-50,"x2":300,"y":0,"y2":0},{"x":-50,"x2":-50,"y":0,"y2":300}]},"mark":{"type":"rule","stroke":"#444","strokeWidth":1.2},"encoding":{"x2":{"field":"x2"},"y2":{"field":"y2"}}},
{"data":{"values":[{"x":0,"x2":0,"y":0,"y2":300}]},"mark":{"type":"rule","stroke":"#444","strokeWidth":1,"strokeDash":[5,3]},"encoding":{"y2":{"field":"y2"}}},
{"data":{"values":[{"x":55,"x2":471,"y":254.5}]},"mark":{"type":"rule","stroke":"#6a86b8","strokeWidth":1,"strokeDash":[4,3]},"encoding":{"x2":{"field":"x2"}}},
{"data":{"name":"r1"},"mark":{"type":"line","interpolate":"monotone","stroke":"#2f55a4","strokeWidth":1.2},"encoding":{"y":{"field":"m","type":"quantitative"}}},
{"data":{"name":"r1"},"mark":{"type":"line","interpolate":"monotone","stroke":"#4a6bb0","strokeWidth":1,"strokeDash":[4,2]},"encoding":{"y":{"field":"l","type":"quantitative"}}},
{"data":{"name":"r1"},"mark":{"type":"line","interpolate":"monotone","stroke":"#4a6bb0","strokeWidth":1,"strokeDash":[4,2]},"encoding":{"y":{"field":"h","type":"quantitative"}}},
{"data":{"values":[{"x":73,"x2":61,"y":283,"y2":266}]},"mark":{"type":"rule","stroke":"#333","strokeWidth":1},"encoding":{"x2":{"field":"x2"},"y2":{"field":"y2"}}},
{"data":{"values":[{"x":59.5,"y":264}]},"mark":{"type":"point","shape":"triangle-down","filled":true,"size":22,"opacity":1,"color":"#333","angle":18}},
{"data":{"values":[{"x":126,"y":292.4,"t":"peak visual response","a":0},{"x":149.5,"y":308.5,"t":"neuron 1","a":0},{"x":-136.4,"y":150.3,"t":"firing rate (spikes s⁻¹)","a":270},{"x":322.7,"y":-29.5,"t":"time from stimulus onset (ms)","a":0}]},"mark":{"type":"text","align":"center","baseline":"middle"},"encoding":{"text":{"field":"t"},"angle":{"field":"a","type":"quantitative","scale":null}}},
{"data":{"values":[{"x":-135,"y":308.5,"t":"(b)"}]},"mark":{"type":"text","align":"center","baseline":"middle","fontStyle":"italic"},"encoding":{"text":{"field":"t"}}}
]},
{"width":206,"height":348.3,"encoding":{"x":{"field":"x","type":"quantitative","scale":{"domain":[-86.25,300]},"axis":{"values":[0,50,100,150,200,250,300],"labelExpr":"datum.value%100==0?datum.label:''","tickSize":-10,"labelPadding":17}},"y":{"field":"y","type":"quantitative","scale":{"domain":[0,316.6]},"axis":{"values":[0,50,100,150,200,250,300],"labels":false,"offset":-19.3,"tickSize":-5}}},
"layer":[
{"data":{"values":[{"x":-50,"x2":300,"y":0,"y2":0},{"x":-50,"x2":-50,"y":0,"y2":300}]},"mark":{"type":"rule","stroke":"#444","strokeWidth":1.2},"encoding":{"x2":{"field":"x2"},"y2":{"field":"y2"}}},
{"data":{"values":[{"x":0,"x2":0,"y":0,"y2":300}]},"mark":{"type":"rule","stroke":"#444","strokeWidth":1,"strokeDash":[5,3]},"encoding":{"y2":{"field":"y2"}}},
{"data":{"values":[{"x":-50,"x2":52,"y":147}]},"mark":{"type":"rule","stroke":"#e33","strokeWidth":1,"strokeDash":[4,3]},"encoding":{"x2":{"field":"x2"}}},
{"data":{"values":[{"x":59.4,"y":254.5,"y2":165}]},"mark":{"type":"rule","stroke":"#d8232a","strokeWidth":1},"encoding":{"y2":{"field":"y2"}}},
{"data":{"values":[{"x":59.4,"y":163}]},"mark":{"type":"point","shape":"triangle-down","filled":true,"size":24,"opacity":1,"color":"#d8232a"}},
{"data":{"name":"r2"},"mark":{"type":"line","interpolate":"monotone","stroke":"#e02a30","strokeWidth":1.2},"encoding":{"y":{"field":"m","type":"quantitative"}}},
{"data":{"name":"r2"},"mark":{"type":"line","interpolate":"monotone","stroke":"#e5484c","strokeWidth":1,"strokeDash":[4,2]},"encoding":{"y":{"field":"l","type":"quantitative"}}},
{"data":{"name":"r2"},"mark":{"type":"line","interpolate":"monotone","stroke":"#e5484c","strokeWidth":1,"strokeDash":[4,2]},"encoding":{"y":{"field":"h","type":"quantitative"}}},
{"data":{"values":[{"x":142,"y":309,"t":"neuron 2","a":0},{"x":41.9,"y":208,"t":"weaker peak","a":270},{"x":75,"y":208,"t":"response","a":270}]},"mark":{"type":"text","align":"center","baseline":"middle"},"encoding":{"text":{"field":"t"},"angle":{"field":"a","type":"quantitative","scale":null}}}
]},
{"width":230,"height":348.3,"encoding":{"x":{"field":"x","type":"quantitative","scale":{"domain":[-22.33,116.5]},"axis":{"values":[0,20,40,60,80,100],"labelExpr":"datum.value%40==0?datum.label:''","tickSize":-5,"labelPadding":12}},"y":{"field":"y","type":"quantitative","scale":{"domain":[0,81]},"axis":null}},
"layer":[
{"data":{"values":[{"x":0,"x2":100,"y":0},{"x":0,"x2":100,"y":42.2}]},"mark":{"type":"rule","stroke":"#555","strokeWidth":1.2},"encoding":{"x2":{"field":"x2"}}},
{"data":{"values":[{"x":0,"y":42.2,"y2":43.4},{"x":20,"y":42.2,"y2":43.4},{"x":40,"y":42.2,"y2":43.4},{"x":60,"y":42.2,"y2":43.4},{"x":80,"y":42.2,"y2":43.4},{"x":100,"y":42.2,"y2":43.4}]},"mark":{"type":"rule","stroke":"#555","strokeWidth":1},"encoding":{"y2":{"field":"y2"}}},
{"data":{"values":[{"x":43.7,"y":0,"y2":80.3}]},"mark":{"type":"rule","stroke":"#888","strokeWidth":1.5,"strokeDash":[4,3]},"encoding":{"y2":{"field":"y2"}}},
{"data":{"values":[{"x":43,"y":42.2,"y2":81},{"x":45.5,"y":42.2,"y2":81},{"x":52.6,"y":0,"y2":38.5},{"x":56.4,"y":0,"y2":38.5}]},"mark":{"type":"rule","stroke":"#a5d78c","strokeWidth":1.2,"strokeDash":[4,3]},"encoding":{"y2":{"field":"y2"}}},
{"data":{"name":"s"},"mark":{"type":"square","size":3,"color":"#111","opacity":1}},
{"data":{"name":"q"},"mark":{"type":"square","size":40,"color":"#b0479b","opacity":1}},
{"data":{"values":[{"x":44.1,"y":42.2,"y2":81},{"x":54.5,"y":0,"y2":38.5}]},"mark":{"type":"rule","stroke":"#6cbb45","strokeWidth":2},"encoding":{"y2":{"field":"y2"}}},
{"data":{"values":[{"x":44.2,"x2":50.5,"y":39.9}]},"mark":{"type":"rule","stroke":"#e8202a","strokeWidth":2.5},"encoding":{"x2":{"field":"x2"}}},
{"data":{"values":[{"x":52,"y":39.9}]},"mark":{"type":"point","shape":"triangle-right","filled":true,"size":70,"opacity":1,"color":"#e8202a"}},
{"data":{"values":[{"x":17.7,"y":65.9,"y2":50.9},{"x":15.5,"y":23.6,"y2":8.7}]},"mark":{"type":"rule","stroke":"#333","strokeWidth":1},"encoding":{"y2":{"field":"y2"}}},
{"data":{"values":[{"x":51.1,"y":-7.37,"t":"time from stimulus","a":0},{"x":51.1,"y":-11.63,"t":"onset (ms)","a":0},{"x":112.5,"y":60.8,"t":"neuron 1","a":270},{"x":112.5,"y":19,"t":"neuron 2","a":270},{"x":10.9,"y":58.5,"t":"15 trials","a":270},{"x":10.9,"y":16.4,"t":"15 trials","a":270}]},"mark":{"type":"text","align":"center","baseline":"middle"},"encoding":{"text":{"field":"t"},"angle":{"field":"a","type":"quantitative","scale":null}}},
{"data":{"values":[{"x":-4.2,"y":78.8,"t":"(c)"}]},"mark":{"type":"text","align":"center","baseline":"middle","fontStyle":"italic"},"encoding":{"text":{"field":"t"}}}
]}
],"bounds":"flush","spacing":4,"resolve":{"scale":{"color":"independent"}}}
]}
